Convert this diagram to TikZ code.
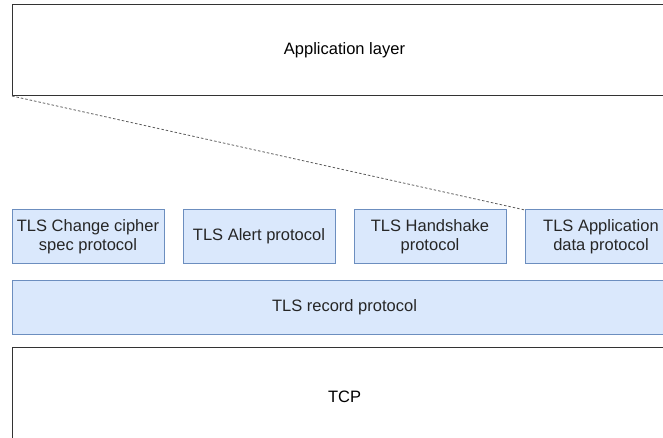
\documentclass[tikz,border=0pt]{standalone}
\usepackage{fontspec}
\setmainfont{Liberation Sans}
\usepackage{xcolor}
\usepackage{tikz}
\usetikzlibrary{positioning}

\definecolor{protoFill}{HTML}{DAE8FC}
\definecolor{protoLine}{HTML}{6C8EBF}

\begin{document}
\begin{tikzpicture}[
    x=1pt, y=-1pt,
    font=\fontsize{16.5}{19.5}\selectfont,
    layerBox/.style={
        rectangle, draw=black!80, line width=1pt, fill=white,
        minimum width=665pt, inner sep=0pt, outer sep=0pt, align=center
    },
    protoBox/.style={
        rectangle, draw=protoLine, line width=1pt, fill=protoFill,
        minimum width=152pt, minimum height=53pt, inner sep=0pt, outer sep=0pt,
        align=center, text=black!85
    },
    recordBox/.style={
        protoBox, minimum width=665pt, minimum height=54pt
    },
    stackLink/.style={
        draw=black!65, line width=0.8pt, dash pattern=on 2.5pt off 2pt
    }
]

% Page
\useasboundingbox (0,0) rectangle (663,438);
\clip (0,0) rectangle (663,438);

% Layers
\node[layerBox, minimum height=91pt] (app) at (344.5, 50.5) {Application layer};
\node[layerBox, minimum height=100pt] (tcp) at (344.5, 397) {TCP};

% TLS sub-protocols
\node[protoBox] (ccs) at (88, 236.5) {TLS Change cipher\\spec protocol};
\node[protoBox] (alert) at (259, 236.5) {TLS Alert protocol};
\node[protoBox] (hs) at (430, 236.5) {TLS Handshake\\protocol};
\node[protoBox] (appdata) at (601, 236.5) {TLS Application\\data protocol};

% Record layer
\node[recordBox] (record) at (344.5, 307) {TLS record protocol};

% Link
\draw[stackLink] (app.south west) -- (appdata.north west);

\end{tikzpicture}
\end{document}
